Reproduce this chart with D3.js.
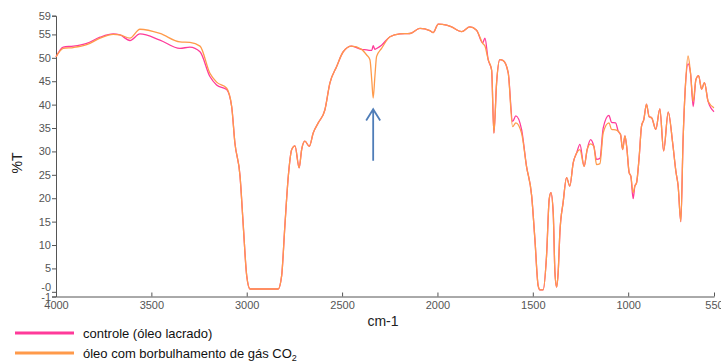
<!DOCTYPE html>
<html>
<head>
<meta charset="utf-8">
<script src="https://cdn.jsdelivr.net/npm/d3@7"></script>
<style>
  body { margin: 0; background: #fff; }
  svg { display: block; font-family: "Liberation Sans", Arial, sans-serif; }
</style>
</head>
<body>
<svg id="chart" width="721" height="362"></svg>
<script>
// ---- data ----
const wavenumbers = [4000,3962,3909,3839,3769,3700,3665,3612,3560,3455,3350,3298,3245,3193,3158,3105,3079,3062,3035,3018,3000,2983,2835,2817,2800,2782,2764,2747,2725,2712,2695,2672,2651,2625,2590,2564,2529,2494,2450,2398,2371,2354,2344,2337,2328,2319,2293,2249,2197,2144,2092,2040,2022,1996,1952,1926,1873,1830,1795,1763,1751,1734,1716,1704,1690,1673,1655,1629,1606,1589,1559,1533,1506,1489,1472,1463,1446,1428,1414,1405,1393,1384,1375,1367,1358,1341,1323,1306,1288,1270,1253,1231,1215,1197,1180,1166,1148,1131,1101,1087,1066,1052,1040,1029,1017,1008,995,986,974,965,956,942,930,918,904,890,877,855,834,814,790,767,750,738,724,712,701,686,673,659,645,631,615,600,581,550];

const controle = [50.2,52.3,52.5,53.1,54.4,55.1,54.9,53.7,55.1,53.8,52.0,52.3,51.3,46.0,44.2,43.2,39.6,31.8,24.7,14.1,3.4,0.6,0.6,3.4,14.1,24.7,30.4,31.2,26.5,30.4,32.2,31.1,34.0,36.1,38.9,44.6,48.1,51.3,52.5,51.8,51.7,51.6,51.6,52.6,51.8,52.0,52.7,54.5,55.1,55.2,56.3,55.8,55.4,57.2,57.0,56.6,55.6,56.6,55.9,53.2,54.2,49.6,47.4,33.9,44.6,49.6,49.4,46.8,36.4,37.6,34.7,26.8,20.5,11.2,1.3,0.4,0.4,7.7,19.8,21.2,16.9,4.2,1.0,4.2,12.7,19.1,24.4,22.6,27.6,29.7,31.5,26.8,30.4,32.5,31.1,28.3,28.5,35.0,37.7,36.2,36.1,34.3,33.6,30.4,33.3,31.1,25.5,24.7,19.9,22.6,23.3,29.0,35.4,36.8,40.1,37.4,37.2,34.7,39.1,30.1,38.4,31.9,25.8,22.6,15.0,32.6,43.2,48.7,46.7,39.6,45.3,46.2,43.3,44.7,40.7,38.5];

const comCO2 = [50.2,52.0,52.2,52.8,54.2,55.0,54.9,54.2,56.1,55.2,53.4,53.3,52.5,46.7,44.8,43.5,39.6,31.8,24.7,14.1,3.4,0.6,0.6,3.4,14.1,24.7,30.4,31.2,26.5,30.4,32.2,31.1,34.0,36.1,38.9,44.6,48.1,51.3,52.5,51.8,50.6,49.6,45.0,41.4,46.0,50.3,52.0,54.5,55.1,55.2,56.3,55.8,55.4,57.2,57.0,56.6,55.6,56.6,55.9,53.1,52.5,49.6,47.4,33.9,44.6,49.6,49.4,46.8,35.3,36.1,33.9,26.8,20.5,11.2,1.3,0.4,0.4,7.7,19.8,21.2,16.9,4.2,1.0,4.2,12.7,19.1,24.4,22.6,27.6,29.7,30.4,26.8,30.4,31.6,31.1,27.2,27.4,34.0,36.1,34.7,34.6,34.3,33.6,30.4,33.3,31.1,25.5,24.7,21.2,22.6,23.3,29.0,35.4,36.8,40.1,37.4,37.2,34.7,39.1,30.1,38.4,31.9,25.8,22.6,15.0,32.6,43.2,50.4,46.7,40.7,45.3,46.2,43.3,44.7,40.7,39.3];

const xTicks = [4000, 3500, 3000, 2500, 2000, 1500, 1000, 550];
const yTicks = [-1, 0, 5, 10, 15, 20, 25, 30, 35, 40, 45, 50, 55, 59];
const seriesNames = ["controle (óleo lacrado)", "óleo com borbulhamento de gás CO"];
const seriesColors = ["#ff3a9a", "#ff9a4a"];

// ---- chart ----
const svg = d3.select("#chart");

const x = d3.scaleLinear().domain([4000, 550]).range([56, 714]);
const y = d3.scaleLinear().domain([-1, 59]).range([296.5, 15.7]);

// y axis
const yAxis = svg.append("g")
  .attr("transform", "translate(56,0)")
  .call(d3.axisLeft(y).tickValues(yTicks).tickSize(4).tickPadding(1)
    .tickFormat(d => d === 0 ? "-0" : d));
yAxis.selectAll("text").attr("font-size", 11).attr("fill", "#555")
  .attr("font-family", "Liberation Sans, Arial, sans-serif");
yAxis.selectAll(".tick").filter(d => d === 0).select("text").attr("dy", "-0.15em");
yAxis.select(".domain").attr("stroke", "#555");
yAxis.selectAll(".tick line").attr("stroke", "#555");

// x axis
const xAxis = svg.append("g")
  .attr("transform", "translate(0,296.5)")
  .call(d3.axisBottom(x).tickValues(xTicks).tickSize(4).tickSizeOuter(0).tickPadding(1)
    .tickFormat(d3.format("d")));
xAxis.selectAll("text").attr("font-size", 11).attr("fill", "#555")
  .attr("font-family", "Liberation Sans, Arial, sans-serif");
xAxis.selectAll(".tick line").attr("y2", -4).attr("stroke", "#555");
xAxis.select(".domain").attr("stroke", "#555");
xAxis.selectAll(".tick").filter(d => d === 4000).select("line").remove();

// axis titles
svg.append("text")
  .attr("transform", "translate(22,163) rotate(-90)")
  .attr("text-anchor", "middle")
  .attr("font-size", 14)
  .attr("fill", "#222")
  .text("%T");

svg.append("text")
  .attr("x", 383).attr("y", 326)
  .attr("text-anchor", "middle")
  .attr("font-size", 14)
  .attr("fill", "#222")
  .text("cm-1");

// spectra
const line = d3.line()
  .x((d, i) => x(wavenumbers[i]))
  .y(d => y(d))
  .curve(d3.curveMonotoneX);

[controle, comCO2].forEach((s, k) => {
  svg.append("path")
    .datum(s)
    .attr("fill", "none")
    .attr("stroke", seriesColors[k])
    .attr("stroke-width", 1.3)
    .attr("stroke-linejoin", "round")
    .attr("d", line);
});

// arrow pointing to the CO2 band
const arrowX = x(2337);
svg.append("path")
  .attr("d", `M${arrowX},${y(28)} L${arrowX},${y(39)} M${arrowX - 7},${y(36.6)} L${arrowX},${y(39)} L${arrowX + 7},${y(36.6)}`)
  .attr("fill", "none")
  .attr("stroke", "#4f7db8")
  .attr("stroke-width", 1.8);

// legend
const legend = svg.append("g");
seriesNames.forEach((name, i) => {
  const ly = 333 + i * 20;
  legend.append("line")
    .attr("x1", 15).attr("x2", 74)
    .attr("y1", ly).attr("y2", ly)
    .attr("stroke", seriesColors[i])
    .attr("stroke-width", 3);
  const t = legend.append("text")
    .attr("x", 83).attr("y", ly + 5)
    .attr("font-size", 13)
    .attr("fill", "#111")
    .text(name);
  if (i === 1) {
    t.append("tspan").attr("font-size", 9).attr("dy", 3).text("2");
  }
});
</script>
</body>
</html>
